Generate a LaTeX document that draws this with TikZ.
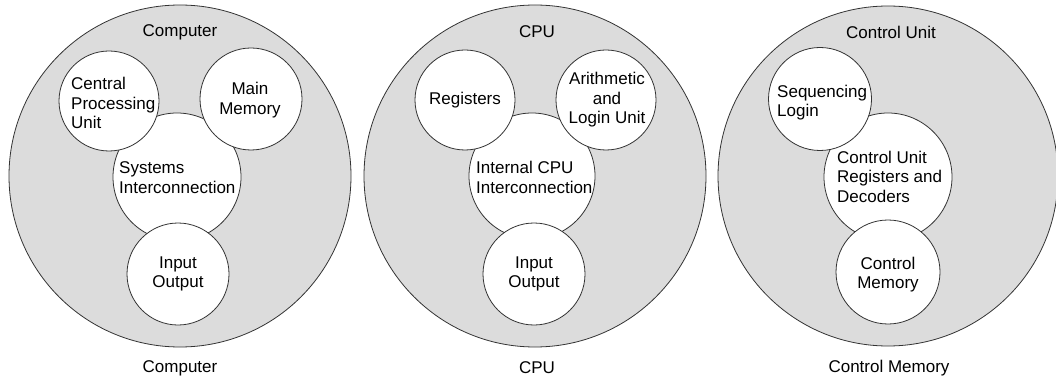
\documentclass[tikz,border=0pt]{standalone}
\usepackage{fontspec}
\setmainfont{Liberation Sans}
\definecolor{panelgray}{HTML}{DCDCDC}
\definecolor{edgecol}{HTML}{333333}
\tikzset{
  outer/.style={circle, draw=edgecol, fill=panelgray, line width=0.8pt, inner sep=0pt, minimum size=#1},
  inner/.style={circle, draw=edgecol, fill=white, line width=0.8pt, inner sep=0pt, minimum size=#1},
  lbl/.style={inner sep=0pt, font=\fontsize{17}{19.5}\selectfont, text=black},
  lbll/.style={lbl, align=left, anchor=west},
  lblc/.style={lbl, align=center}
}
\begin{document}
\begin{tikzpicture}[x=1pt,y=-1pt]
\useasboundingbox (0,0) rectangle (1056,387);
% Panel 1: Computer
\node[outer=342pt] (comp) at (180,176) {};
\node[inner=128pt] (sys) at (177,177) {};
\node[inner=100pt] (cpu) at (109,101) {};
\node[inner=102pt] (mem) at (251,99) {};
\node[inner=102pt] (io) at (178,274) {};
\node[lblc] (compT) at (180,32) {Computer};
\node[lblc] (compB) at (180,368) {Computer};
\node[lbll] (cpuT) at (71,103) {Central\\Processing\\Unit};
\node[lblc] (memT) at (250,100) {Main\\Memory};
\node[lbll] (sysT) at (119,177.5) {Systems\\Interconnection};
\node[lblc] (ioT) at (178,274) {Input\\Output};
% Panel 2: CPU
\node[outer=342pt] (cpuP) at (535,176) {};
\node[inner=126pt] (icpu) at (532,176) {};
\node[inner=100pt] (reg) at (465,100) {};
\node[inner=100pt] (alu) at (606,100) {};
\node[inner=102pt] (io2) at (534,274) {};
\node[lblc] (cpuPT) at (537,32) {CPU};
\node[lblc] (cpuPB) at (537,368) {CPU};
\node[lblc] (regT) at (465,100) {Registers};
\node[lblc] (aluT) at (607,100) {Arithmetic\\and\\Login Unit};
\node[lbll] (icpuT) at (476,177.5) {Internal CPU\\Interconnection};
\node[lblc] (io2T) at (534,274) {Input\\Output};
% Panel 3: Control Unit
\node[outer=340pt] (cuP) at (888,176) {};
\node[inner=128pt] (cur) at (888,177) {};
\node[inner=103pt] (seq) at (820,99) {};
\node[inner=104pt] (cm) at (888,272) {};
\node[lblc] (cuPT) at (891,32) {Control Unit};
\node[lblc] (cuPB) at (889,368) {Control Memory};
\node[lbll] (seqT) at (777,102.5) {Sequencing\\Login};
\node[lbll] (curT) at (837,176.5) {Control Unit\\Registers and\\Decoders};
\node[lblc] (cmT) at (888,274.5) {Control\\Memory};
\end{tikzpicture}
\end{document}
